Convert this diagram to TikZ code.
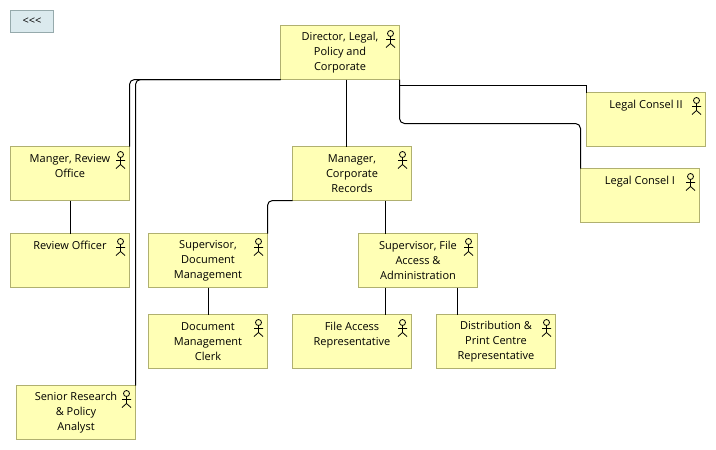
\documentclass[tikz,border=0pt]{standalone}
\usepackage{fontspec}
\setmainfont{Open Sans}
\usepackage{xcolor}
\definecolor{boxfill}{RGB}{255, 255, 181}
\definecolor{boxline}{RGB}{176, 176, 112}
\definecolor{btnfill}{RGB}{219, 234, 238}
\definecolor{btnline}{RGB}{150, 170, 172}
\tikzset{
  actorbox/.style={draw=boxline, fill=boxfill, line width=1pt, anchor=north west, outer sep=0pt,
    minimum width=119pt, minimum height=54pt, inner sep=0pt, align=center,
    font=\fontsize{11}{15}\selectfont},
  btnbox/.style={draw=btnline, fill=btnfill, line width=1pt, anchor=north west, outer sep=0pt,
    minimum width=43pt, minimum height=22pt, inner sep=0pt, font=\fontsize{11}{15}\selectfont},
  conn/.style={draw=black, line width=1pt},
  connround/.style={conn, rounded corners=5pt},
  actor/.pic={
    \draw[line width=0.8pt] (0, 0) circle (3);
    \draw[line width=0.8pt] (0, 3) -- (0, 10) (-4.5, 6) -- (4.5, 6) (-4.5, 14) -- (0, 10) -- (4.5, 14);
  }
}
\begin{document}
\begin{tikzpicture}[x=1pt, y=-1pt]
  \useasboundingbox (0, 0) rectangle (716, 450);
  \node[btnbox] (back) at (10.5, 10.5) {<{}<{}<};
  % boxes
  \node[actorbox] (director) at (280.5, 25.5) {Director, Legal,\\Policy and\\Corporate};
  \node[actorbox] (manger) at (10.5, 146.5) {Manger, Review\\Office\\~};
  \node[actorbox] (review) at (10.5, 233.5) {Review Officer\\~\\~};
  \node[actorbox] (records) at (292.5, 146.5) {Manager,\\Corporate\\Records};
  \node[actorbox] (docsup) at (148.5, 233.5) {Supervisor,\\Document\\Management};
  \node[actorbox] (filesup) at (358.5, 233.5) {Supervisor, File\\Access \&\\Administration};
  \node[actorbox] (clerk) at (148.5, 314.5) {Document\\Management\\Clerk};
  \node[actorbox] (filerep) at (292.5, 314.5) {File Access\\Representative\\~};
  \node[actorbox] (printrep) at (436.5, 314.5) {Distribution \&\\Print Centre\\Representative};
  \node[actorbox] (senior) at (16.5, 385.5) {Senior Research\\\& Policy\\Analyst};
  \node[actorbox] (legaltwo) at (586.5, 92.5) {Legal Consel II\\~\\~};
  \node[actorbox] (legalone) at (580.5, 168.5) {Legal Consel I\\~\\~};
  % actor icons
  \foreach \n in {director, manger, review, records, docsup, filesup, clerk, filerep, printrep, senior, legaltwo, legalone}
    \pic at ([xshift=-9pt, yshift=-8pt]\n.north east) {actor};
  % connectors
  \draw[connround] (director.south west) -| (manger.north east);
  \draw[connround] (director.south west) -| (senior.north east);
  \draw[conn] ([xshift=6pt]director.south) -- ([xshift=-6pt]records.north);
  \draw[conn] (director.south east) -- ++(0, 6) -| (legaltwo.north west);
  \draw[connround] (director.south east) -- ++(0, 44) -| (legalone.north west);
  \draw[conn] (manger) -- (review);
  \draw[connround] (records.south west) -| (docsup.north east);
  \draw[conn] ([xshift=33pt]records.south) -- ([xshift=-33pt]filesup.north);
  \draw[conn] (docsup) -- (clerk);
  \draw[conn] ([xshift=-33pt]filesup.south) -- ([xshift=33pt]filerep.north);
  \draw[conn] ([xshift=39pt]filesup.south) -- ([xshift=-39pt]printrep.north);
\end{tikzpicture}
\end{document}
